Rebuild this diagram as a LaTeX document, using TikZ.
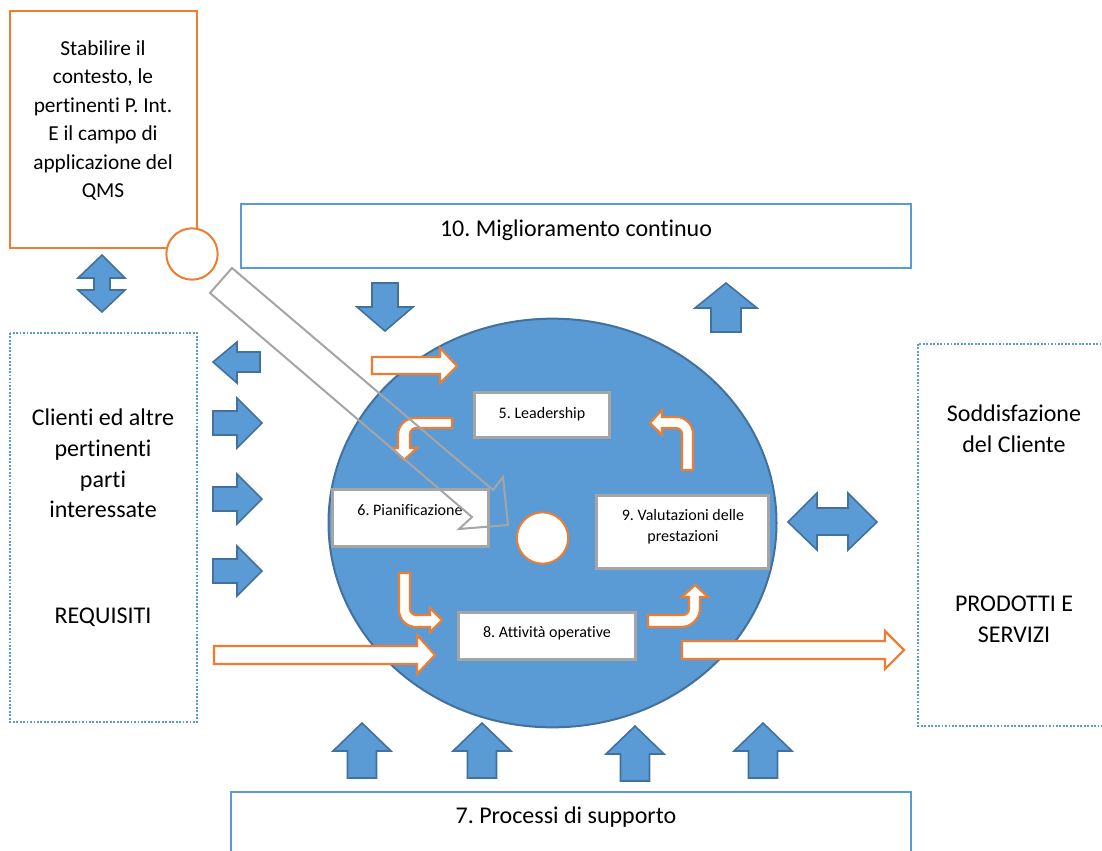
\documentclass[tikz,border=0pt]{standalone}
\usepackage{fontspec}
\setmainfont{Carlito}[Ligatures=NoCommon]
\usetikzlibrary{shapes.geometric}
\frenchspacing
\definecolor{accblue}{HTML}{5B9BD5}
\definecolor{deepblue}{HTML}{41719C}
\definecolor{accorange}{HTML}{ED7D31}
\definecolor{boxgrey}{HTML}{A5A5A5}
\tikzset{
  bluearrow/.style={fill=accblue, draw=deepblue, line width=1.2pt, line join=miter},
  orangearrow/.style={fill=white, draw=accorange, line width=1.6pt, line join=miter},
  greybox/.style={rectangle, draw=boxgrey, fill=white, line width=2.2pt, inner sep=0pt},
  bluebox/.style={draw=accblue, fill=white, line width=1.5pt},
  dotbox/.style={draw=accblue, line width=1.6pt, dash pattern=on 1.4pt off 1.2pt},
  bigtext/.style={font=\fontsize{18pt}{23pt}\selectfont\frenchspacing, align=center, inner sep=0pt},
  midtext/.style={font=\fontsize{16pt}{21.4pt}\selectfont\frenchspacing, align=center, inner sep=0pt},
  smalltext/.style={font=\fontsize{12pt}{15.75pt}\selectfont\frenchspacing, align=center, inner sep=0pt},
  ring/.style={circle, draw=accorange, fill=white, line width=1.5pt, inner sep=0pt, minimum size=38.5pt},
}
\begin{document}
\begin{tikzpicture}[x=0.75pt,y=-0.75pt]
\clip (0,0) rectangle (1102,850);
\fill[white] (0,0) rectangle (1102,850);

% context box with its ring
\node[rectangle, draw=accorange, line width=1.8pt, minimum width=140.5pt, minimum height=178pt, inner sep=0pt] (ctxbox) at (103.5,129.5) {};
\node[midtext] (ctxtext) at (103,120.5) {Stabilire il\\contesto, le\\pertinenti P. Int.\\E il campo di\\applicazione del\\QMS};
\node[ring] (ctxring) at (192,254) {};

% improvement and support boxes
\draw[bluebox] (241,204) rectangle (911,268);
\node[bigtext] (improve) at (576,230) {10. Miglioramento continuo};
\draw[bluebox] (231,792) rectangle (911,880);
\node[bigtext] (support) at (566,817) {7. Processi di supporto};

% dotted side boxes
\draw[dotbox] (10,333) rectangle (197,722);
\node[bigtext] (clients) at (103,463.5) {Clienti ed altre\\pertinenti\\parti\\interessate};
\node[bigtext] (reqs) at (103,617) {REQUISITI};
\draw[dotbox] (918,344) rectangle (1120,726);
\node[bigtext] (satisf) at (1014,429) {Soddisfazione\\del Cliente};
\node[bigtext] (products) at (1014,619) {PRODOTTI E\\SERVIZI};

% blue block arrows
\draw[bluearrow] (102,255) -- (125,278) -- (110,278) -- (110,290) -- (125,290) -- (102,312)
  -- (78,290) -- (94,290) -- (94,278) -- (78,278) -- cycle;
\draw[bluearrow] (372,283) -- (398,283) -- (398,307) -- (413,307) -- (385,331) -- (357,307) -- (372,307) -- cycle;
\draw[bluearrow] (711,332) -- (741,332) -- (741,308) -- (757,308) -- (726,283) -- (695,308) -- (711,308) -- cycle;
\draw[bluearrow] (260,352) -- (237,352) -- (237,342) -- (213,362) -- (237,383) -- (237,372) -- (260,372) -- cycle;
\foreach \yc in {423,499,571}{
  \draw[bluearrow] (213,\yc-12) -- (237,\yc-12) -- (237,\yc-25) -- (262,\yc) -- (237,\yc+25)
    -- (237,\yc+12) -- (213,\yc+12) -- cycle;
}
\draw[bluearrow] (788,522) -- (817,493) -- (817,508) -- (848,508) -- (848,493) -- (877,522)
  -- (848,550) -- (848,535) -- (817,535) -- (817,550) -- cycle;
\foreach \xc/\yt in {362/723,482/723,635/726,763/723}{
  \draw[bluearrow] (\xc,\yt) -- (\xc+29,\yt+28) -- (\xc+14.5,\yt+28) -- (\xc+14.5,\yt+55)
    -- (\xc-14.5,\yt+55) -- (\xc-14.5,\yt+28) -- (\xc-29,\yt+28) -- cycle;
}

% core disc
\node[ellipse, fill=accblue, draw=deepblue, line width=1.5pt, minimum width=336pt, minimum height=306.5pt, inner sep=0pt] (core) at (552.5,523) {};

% orange straight arrows
\draw[orangearrow] (372,357) -- (440,357) -- (440,348) -- (457,366) -- (440,383) -- (440,374) -- (372,374) -- cycle;
\draw[orangearrow] (214,646) -- (417,646) -- (417,635) -- (435,655) -- (417,674) -- (417,664) -- (214,664) -- cycle;
\draw[orangearrow] (682,641) -- (885,641) -- (885,631) -- (904,650) -- (885,669) -- (885,659) -- (682,659) -- cycle;

% orange bent arrows (quarter-circle corners as Bezier curves)
\draw[orangearrow] (452,418) -- (415,418) .. controls (405.6,418) and (398,425.6) .. (398,435)
  -- (398,448) -- (392,448) -- (404,460) -- (417,448) -- (410,448) -- (410,434)
  .. controls (410,430.7) and (412.7,428) .. (416,428) -- (452,428) -- cycle;
\draw[orangearrow] (693,470) -- (693,434) .. controls (693,424.6) and (685.4,417) .. (676,417)
  -- (662,417) -- (662,410) -- (650,423) -- (662,435) -- (662,428) -- (676,428)
  .. controls (679.3,428) and (682,430.7) .. (682,434) -- (682,470) -- cycle;
\draw[orangearrow] (399,573) -- (399,610) .. controls (399,619.4) and (406.6,627) .. (416,627)
  -- (430,627) -- (430,632) -- (442,620) -- (430,608) -- (430,615) -- (416,615)
  .. controls (412.7,615) and (410,612.3) .. (410,609) -- (410,573) -- cycle;
\draw[orangearrow] (648,627) -- (681,627) .. controls (691.5,627) and (700,618.5) .. (700,608)
  -- (700,597) -- (708,597) -- (695,585) -- (682,597) -- (689,597) -- (689,609)
  .. controls (689,612.3) and (686.3,615) .. (683,615) -- (648,615) -- cycle;

% process boxes
\node[greybox, minimum width=101.5pt, minimum height=34pt] (lead) at (542,415) {};
\node[smalltext] (leadtext) at (542,414) {5. Leadership};
\node[greybox, minimum width=117pt, minimum height=43pt] (plan) at (410.5,518) {};
\node[smalltext] (plantext) at (410,510) {6. Pianificazione};
\node[greybox, minimum width=129pt, minimum height=55pt] (eval) at (682.5,532) {};
\node[smalltext] (evaltext) at (683,526.5) {9. Valutazioni delle\\prestazioni};
\node[greybox, minimum width=133pt, minimum height=35.5pt] (ops) at (547,636) {};
\node[smalltext] (opstext) at (547,633) {8. Attività operative};

% centre ring
\node[ring] (hub) at (542.5,538) {};

% context arrow pointing into the system
\draw[draw=boxgrey, line width=1.5pt, line join=miter] (232,268) -- (493,490) -- (503,477) -- (508,525)
  -- (459,529) -- (472,517) -- (210,293) -- cycle;
\end{tikzpicture}
\end{document}
